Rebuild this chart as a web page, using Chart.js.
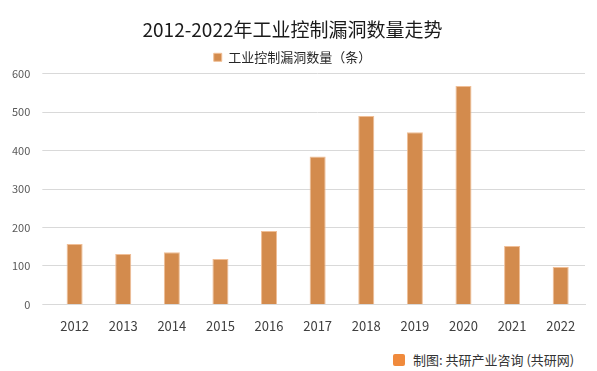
<!DOCTYPE html>
<html>
<head>
<meta charset="utf-8">
<script src="https://cdn.jsdelivr.net/npm/chart.js@4"></script>
<style>
  body { margin: 0; background: #fff; }
  #wrap { position: relative; width: 597px; height: 371px; }
  #chart { position: absolute; left: 0; top: 0; }
  #source {
    position: absolute; left: 393px; top: 350px;
    font-family: "Noto Sans CJK SC", sans-serif; font-size: 13px; color: #333;
  }
  #source .icon {
    display: inline-block; width: 12px; height: 12px; margin-right: 8px;
    background: #f08a3c; border-radius: 2px; vertical-align: -1px;
  }
</style>
</head>
<body>
<div id="wrap">
  <canvas id="chart" width="597" height="340"></canvas>
  <div id="source"><span class="icon"></span>制图: 共研产业咨询 (共研网)</div>
</div>
<script>
var years = ['2012', '2013', '2014', '2015', '2016', '2017', '2018', '2019', '2020', '2021', '2022'];
var vuln_count = [157, 131, 136, 118, 191, 385, 490, 448, 568, 152, 97];
var series_name = '工业控制漏洞数量（条）';
var chart_title = '2012-2022年工业控制漏洞数量走势';

var bar_color = 'rgb(211, 139, 77)';
var font_family = '"Noto Sans CJK SC", sans-serif';

var ctx = document.getElementById('chart');
window.myChart = new Chart(ctx, {
  type: 'bar',
  data: {
    labels: years,
    datasets: [
      {
        label: series_name,
        data: vuln_count,
        backgroundColor: bar_color,
        borderColor: 'rgba(240, 190, 150, 1)',
        borderWidth: 1,
        categoryPercentage: 1,
        barPercentage: 0.33
      }
    ]
  },
  options: {
    responsive: false,
    animation: false,
    layout: {
      padding: { left: 0, right: 12, top: 6, bottom: 0 }
    },
    scales: {
      x: {
        grid: { display: false },
        border: { color: '#d9d9d9' },
        ticks: {
          color: '#404040',
          font: { family: font_family, size: 13 },
          padding: 6
        }
      },
      y: {
        min: 0,
        max: 600,
        grid: { color: '#d9d9d9' },
        border: { display: false },
        ticks: {
          stepSize: 100,
          color: '#595959',
          font: { family: font_family, size: 11 },
          padding: 12
        }
      }
    },
    plugins: {
      title: {
        display: true,
        text: chart_title,
        color: '#1a1a1a',
        font: { family: font_family, size: 19, weight: 'normal' },
        padding: { top: 12, bottom: 0 }
      },
      legend: {
        display: true,
        labels: {
          color: '#262626',
          boxWidth: 8,
          boxHeight: 8,
          font: { family: font_family, size: 13 }
        }
      },
      tooltip: { enabled: false }
    }
  }
});
</script>
</body>
</html>
